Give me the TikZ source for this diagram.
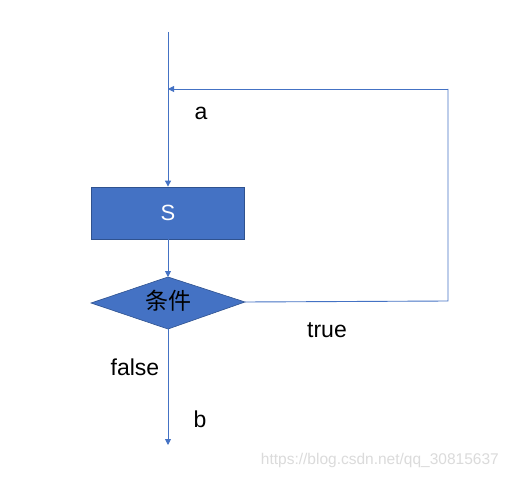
\documentclass[tikz,border=0pt]{standalone}
\usepackage{fontspec}
\setmainfont{Liberation Sans}
\newfontfamily\cjk{Noto Sans CJK SC}
\usetikzlibrary{arrows.meta,shapes.geometric}
\definecolor{mblue}{HTML}{4472C4}
\definecolor{mborder}{HTML}{2F528F}
\tikzset{
  flow/.style={draw=mblue, line width=0.9pt, -{Triangle[length=6pt,width=6pt]}},
  plain/.style={draw=mblue, line width=0.9pt},
  lbl/.style={font=\fontsize{23}{26}\selectfont, text=black, inner sep=0pt},
  box/.style={draw=mborder, fill=mblue, line width=0.8pt, minimum width=153pt, minimum height=52pt, inner sep=0pt, text=white, font=\fontsize{22}{24}\selectfont}
}
\begin{document}
\begin{tikzpicture}[x=1pt,y=-1pt]
\useasboundingbox[fill=white] (0,0) rectangle (508,478);
\coordinate (start) at (168,32);
\coordinate (join) at (168,89);
\coordinate (rtop) at (448,89);
\coordinate (rbot) at (448,301);
\coordinate (end) at (168,445);
\node[box] (S) at (168,213) {S};
\coordinate (Cleft) at (91,303);
\coordinate (Ctop) at (168,277);
\coordinate (Cright) at (245,302);
\coordinate (Cbot) at (168,329);
\path[fill=mblue, draw=mborder, line width=0.6pt] (Cleft) -- (Ctop) -- (Cright) -- (Cbot) -- cycle;
\node[inner sep=0pt, font=\cjk\fontsize{23}{26}\selectfont] (C) at (168,301) {条件};
\draw[flow] (start) -- (S.north);
\draw[flow] (S.south) -- (Ctop);
\draw[plain] (Cright) -- (rbot) -- (rtop);
\draw[flow] (rtop) -- (join);
\draw[flow] (Cbot) -- (end);
\node[lbl] (la) at (201,113) {a};
\node[lbl] (lt) at (327,330) {true};
\node[lbl] (lf) at (135,367) {false};
\node[lbl] (lb) at (200,419) {b};
\node[anchor=east, inner sep=0pt, text=black!14, font=\fontsize{15.5}{18}\selectfont] (wm) at (499,460) {https://blog.csdn.net/qq\_30815637};
\end{tikzpicture}
\end{document}
